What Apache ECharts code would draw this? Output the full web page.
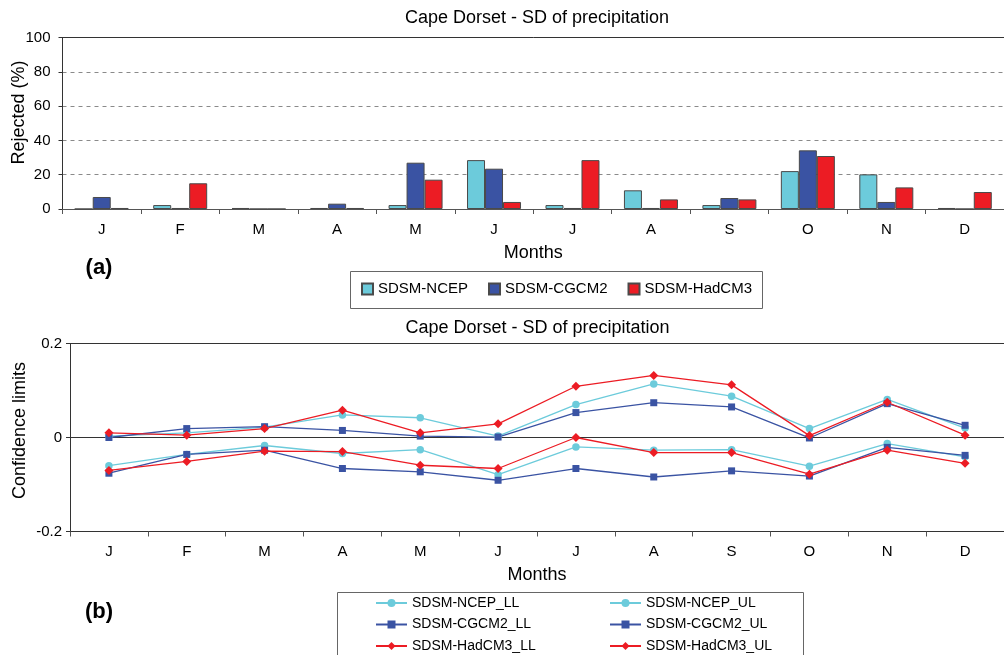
<!DOCTYPE html>
<html>
<head>
<meta charset="utf-8">
<script src="https://cdn.jsdelivr.net/npm/echarts@6/dist/echarts.min.js"></script>
<style>
html,body{margin:0;padding:0;background:#fff;}
#chart{width:1004px;height:655px;}
</style>
</head>
<body>
<div id="chart"></div>
<script>
// ---- data ----
var months = ['J','F','M','A','M','J','J','A','S','O','N','D'];
var rejTicks = [0, 20, 40, 60, 80, 100];
var rejNCEP   = [0, 2.3, 0.6, 0.6, 2.3, 28.5, 2.3, 10.9, 2.3, 22.1, 20.2, 0.6];
var rejCGCM2  = [7.0, 0.6, 0, 3.1, 27.0, 23.5, 0.6, 0.6, 6.4, 34.2, 4.1, 0];
var rejHadCM3 = [0.6, 15.0, 0, 0.6, 17.1, 4.1, 28.5, 5.6, 5.6, 30.9, 12.6, 9.9];

var ncepLL = [-0.060, -0.036, -0.017, -0.034, -0.026, -0.079, -0.020, -0.027, -0.026, -0.061, -0.013, -0.041];
var ncepUL = [0.003, 0.010, 0.022, 0.048, 0.042, 0.003, 0.070, 0.114, 0.088, 0.019, 0.081, 0.020];
var cgcmLL = [-0.076, -0.036, -0.027, -0.066, -0.073, -0.091, -0.066, -0.084, -0.071, -0.082, -0.021, -0.038];
var cgcmUL = [0.000, 0.019, 0.023, 0.015, 0.003, 0.001, 0.053, 0.074, 0.065, -0.001, 0.072, 0.026];
var hadLL  = [-0.070, -0.051, -0.029, -0.030, -0.059, -0.066, 0.000, -0.032, -0.032, -0.078, -0.027, -0.055];
var hadUL  = [0.010, 0.005, 0.019, 0.058, 0.010, 0.029, 0.109, 0.132, 0.112, 0.004, 0.075, 0.005];

// ---- styles ----
var FONT = 'Liberation Sans, Arial, sans-serif';
var cNCEP = '#6ccbdb', cCGCM = '#3a53a3', cHad = '#ec1c24';
var axisCol = '#333';

var chart = echarts.init(document.getElementById('chart'), null, {renderer: 'canvas'});

function lineSeries(name, data, color, symbol, size) {
  return {
    name: name, type: 'line', xAxisIndex: 2, yAxisIndex: 1,
    data: data, symbol: symbol, symbolSize: size,
    lineStyle: {color: color, width: 1.3},
    itemStyle: {color: color},
    emphasis: {disabled: true}
  };
}
function barSeries(name, data, color) {
  return {
    name: name, type: 'bar', xAxisIndex: 0, yAxisIndex: 0,
    data: data, barWidth: 18, barGap: '0%',
    itemStyle: {color: color, borderColor: '#4a4a4a', borderWidth: 1},
    emphasis: {disabled: true}
  };
}

var option = {
  animation: false,
  backgroundColor: '#fff',
  textStyle: {fontFamily: FONT, color: '#000'},
  title: [
    {text: 'Cape Dorset - SD of precipitation', left: 537, top: 9.5, textAlign: 'center', padding: 0,
     textStyle: {fontFamily: FONT, fontSize: 18, fontWeight: 'normal', color: '#000'}},
    {text: 'Cape Dorset - SD of precipitation', left: 537.5, top: 319.5, textAlign: 'center', padding: 0,
     textStyle: {fontFamily: FONT, fontSize: 18, fontWeight: 'normal', color: '#000'}}
  ],
  grid: [
    {left: 62.5, top: 37.5, width: 948, height: 171.5},
    {left: 70, top: 343.5, width: 935, height: 188}
  ],
  legend: [
    {data: ['SDSM-NCEP', 'SDSM-CGCM2', 'SDSM-HadCM3'], left: 361, top: 281.5, orient: 'horizontal',
     itemWidth: 11, itemHeight: 11, itemGap: 20, padding: 0, icon: 'rect', selectedMode: false,
     textStyle: {fontFamily: FONT, fontSize: 15, color: '#000'}},
    {data: ['SDSM-NCEP_LL', 'SDSM-CGCM2_LL', 'SDSM-HadCM3_LL'], left: 375, top: 596, orient: 'vertical',
     itemWidth: 31, itemHeight: 10, itemGap: 7.5, padding: 0, selectedMode: false,
     textStyle: {fontFamily: FONT, fontSize: 14, color: '#000'}},
    {data: ['SDSM-NCEP_UL', 'SDSM-CGCM2_UL', 'SDSM-HadCM3_UL'], left: 609, top: 596, orient: 'vertical',
     itemWidth: 31, itemHeight: 10, itemGap: 7.5, padding: 0, selectedMode: false,
     textStyle: {fontFamily: FONT, fontSize: 14, color: '#000'}}
  ],
  xAxis: [
    {type: 'category', gridIndex: 0, data: months, boundaryGap: true, position: 'bottom',
     name: 'Months', nameLocation: 'middle', nameGap: 35,
     nameTextStyle: {fontFamily: FONT, fontSize: 18, color: '#000'},
     axisLine: {lineStyle: {color: '#555', width: 1}},
     axisTick: {show: true, interval: 0, length: 5, lineStyle: {color: '#555'}},
     axisLabel: {interval: 0, margin: 13, fontFamily: FONT, fontSize: 15, color: '#000'},
     splitLine: {show: false}},
    {type: 'category', gridIndex: 0, data: months, position: 'top',
     axisLine: {lineStyle: {color: axisCol, width: 1}},
     axisTick: {show: false}, axisLabel: {show: false}, splitLine: {show: false}},
    {type: 'category', gridIndex: 1, data: months, boundaryGap: true, position: 'bottom',
     name: 'Months', nameLocation: 'middle', nameGap: 35,
     nameTextStyle: {fontFamily: FONT, fontSize: 18, color: '#000'},
     axisLine: {onZero: false, lineStyle: {color: axisCol, width: 1}},
     axisTick: {show: true, interval: 0, length: 5, lineStyle: {color: '#555'}},
     axisLabel: {interval: 0, margin: 13, fontFamily: FONT, fontSize: 15, color: '#000'},
     splitLine: {show: false}}
  ],
  yAxis: [
    {type: 'value', gridIndex: 0, min: rejTicks[0], max: rejTicks[rejTicks.length - 1], interval: 20,
     axisLine: {show: true, lineStyle: {color: axisCol, width: 1}},
     axisTick: {show: true, length: 4, lineStyle: {color: axisCol}},
     axisLabel: {margin: 12, fontFamily: FONT, fontSize: 15, color: '#000'},
     splitLine: {show: true, lineStyle: {color: '#8a8a8a', type: [4, 4], width: 1}}},
    {type: 'value', gridIndex: 1, min: -0.2, max: 0.2, interval: 0.2,
     axisLine: {show: true, lineStyle: {color: axisCol, width: 1}},
     axisTick: {show: true, length: 4, lineStyle: {color: axisCol}},
     axisLabel: {margin: 8, fontFamily: FONT, fontSize: 15, color: '#000',
       formatter: function (v) { return Math.abs(v) < 1e-9 ? '0' : (Math.round(v * 10) / 10).toString(); }},
     splitLine: {show: true, lineStyle: {color: axisCol, width: 1}}}
  ],
  graphic: [
    {type: 'text', x: 19.5, y: 112.5, rotation: Math.PI / 2,
     style: {text: 'Rejected (%)', fontFamily: FONT, fontSize: 18, fill: '#000', align: 'center', verticalAlign: 'middle'}},
    {type: 'text', x: 20.5, y: 430.5, rotation: Math.PI / 2,
     style: {text: 'Confidence limits', fontFamily: FONT, fontSize: 18, fill: '#000', align: 'center', verticalAlign: 'middle'}},
    {type: 'text', x: 99, y: 268,
     style: {text: '(a)', fontFamily: FONT, fontSize: 22, fontWeight: 'bold', fill: '#000', align: 'center', verticalAlign: 'middle'}},
    {type: 'text', x: 99, y: 612,
     style: {text: '(b)', fontFamily: FONT, fontSize: 22, fontWeight: 'bold', fill: '#000', align: 'center', verticalAlign: 'middle'}},
    {type: 'rect', shape: {x: 350.5, y: 271.5, width: 412, height: 37}, z: -1,
     style: {fill: '#fff', stroke: '#666', lineWidth: 1}},
    {type: 'rect', shape: {x: 337.5, y: 592.5, width: 466, height: 80}, z: -1,
     style: {fill: '#fff', stroke: '#666', lineWidth: 1}}
  ],
  series: [
    barSeries('SDSM-NCEP', rejNCEP, cNCEP),
    barSeries('SDSM-CGCM2', rejCGCM2, cCGCM),
    barSeries('SDSM-HadCM3', rejHadCM3, cHad),
    lineSeries('SDSM-NCEP_LL', ncepLL, cNCEP, 'circle', 7.5),
    lineSeries('SDSM-NCEP_UL', ncepUL, cNCEP, 'circle', 7.5),
    lineSeries('SDSM-CGCM2_LL', cgcmLL, cCGCM, 'rect', 7),
    lineSeries('SDSM-CGCM2_UL', cgcmUL, cCGCM, 'rect', 7),
    lineSeries('SDSM-HadCM3_LL', hadLL, cHad, 'diamond', 9),
    lineSeries('SDSM-HadCM3_UL', hadUL, cHad, 'diamond', 9)
  ]
};
chart.setOption(option);
</script>
</body>
</html>
